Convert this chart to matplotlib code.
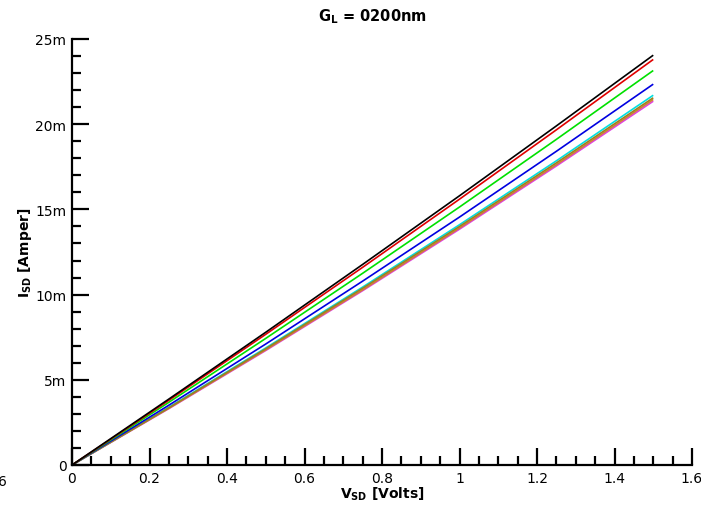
import matplotlib
matplotlib.use("Agg")
import matplotlib.pyplot as plt
from matplotlib.ticker import MultipleLocator

# Data (current in mA)
v_sd = [0.0, 0.25, 0.5, 0.75, 1.0, 1.25, 1.5]
i_black = [0.0, 3.87, 7.79, 11.77, 15.80, 19.90, 24.05]
i_red = [0.0, 3.80, 7.67, 11.60, 15.60, 19.67, 23.80]
i_green = [0.0, 3.68, 7.43, 11.25, 15.14, 19.11, 23.15]
i_blue = [0.0, 3.51, 7.10, 10.79, 14.55, 18.41, 22.35]
i_cyan = [0.0, 3.39, 6.87, 10.44, 14.10, 17.85, 21.70]
i_olive = [0.0, 3.36, 6.82, 10.37, 14.00, 17.73, 21.55]
i_orange = [0.0, 3.33, 6.76, 10.28, 13.91, 17.63, 21.45]
i_magenta = [0.0, 3.31, 6.72, 10.23, 13.84, 17.55, 21.35]

series = [
    (i_magenta, "#e040e0"),
    (i_orange, "#d08030"),
    (i_cyan, "#00e0e0"),
    (i_olive, "#9a8020"),
    (i_blue, "#0000e0"),
    (i_green, "#00e000"),
    (i_red, "#e00000"),
    (i_black, "#000000"),
]

x_ticks = [0, 0.2, 0.4, 0.6, 0.8, 1.0, 1.2, 1.4, 1.6]
x_tick_labels = ["0", "0.2", "0.4", "0.6", "0.8", "1", "1.2", "1.4", "1.6"]
y_ticks = [0, 5, 10, 15, 20, 25]
y_tick_labels = ["0", "5m", "10m", "15m", "20m", "25m"]

plt.rcParams['font.family'] = ['DejaVu Sans']

fig = plt.figure(figsize=(7.01, 5.10), dpi=100)
ax = fig.add_axes([72/701, 1 - 466/510, (692 - 72)/701, (466 - 40)/510])

for y, c in series:
    ax.plot(v_sd, y, color=c, lw=1.2, solid_capstyle='butt')

ax.set_xlim(0, 1.6)
ax.set_ylim(0, 25)
ax.set_xticks(x_ticks)
ax.set_xticklabels(x_tick_labels)
ax.set_yticks(y_ticks)
ax.set_yticklabels(y_tick_labels)
ax.xaxis.set_minor_locator(MultipleLocator(0.05))
ax.yaxis.set_minor_locator(MultipleLocator(1))

for s in ['top', 'right']:
    ax.spines[s].set_visible(False)
for s in ['left', 'bottom']:
    ax.spines[s].set_linewidth(1.6)

ax.tick_params(which='major', direction='in', length=12, width=1.6, labelsize=10, pad=4, colors='black')
ax.tick_params(which='minor', direction='in', length=6.5, width=1.6)
ax.tick_params(axis='x', which='major', pad=4)

ax.set_xlabel(r'$\mathbf{V_{SD}}$ [Volts]', fontsize=10, fontweight='bold', labelpad=0)
ax.set_ylabel(r'$\mathbf{I_{SD}}$ [Amper]', fontsize=10, fontweight='bold', labelpad=1)
fig.text(372/701, 1 - 17/510, r'$\mathbf{G_L}$ = 0200nm', fontsize=10.5, fontweight='bold',
         ha='center', va='center')
fig.text(-2/701, 1 - 482/510, '6', fontsize=10, ha='left', va='center')

fig.savefig("out.png", dpi=100)
